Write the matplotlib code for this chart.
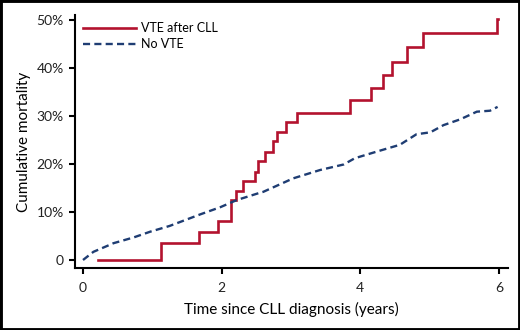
import matplotlib
matplotlib.use("Agg")
import matplotlib.pyplot as plt
from matplotlib.patches import Rectangle

plt.rcParams['font.family'] = ['Lato', 'DejaVu Sans']

# VTE after CLL (step function): step times (years) and cumulative mortality (%)
vte_time = [0.22, 1.13, 1.68, 1.95, 2.14, 2.21, 2.31, 2.48, 2.52, 2.63, 2.74, 2.80, 2.93,
            3.09, 3.85, 4.16, 4.33, 4.46, 4.68, 4.90, 5.97, 5.99]
vte_mort = [0.0, 3.6, 5.9, 8.2, 12.4, 14.4, 16.5, 18.4, 20.6, 22.6, 24.7, 26.7, 28.8,
            30.7, 33.3, 35.8, 38.5, 41.3, 44.4, 47.2, 50.3, 50.3]

# No VTE curve
novte_time = [0.0, 0.15, 0.44, 0.73, 0.97, 1.25, 1.69, 1.98, 2.22, 2.55, 2.60, 3.03, 3.42,
              3.76, 3.92, 4.24, 4.57, 4.81, 5.01, 5.20, 5.44, 5.68, 5.87, 5.98]
novte_mort = [0.0, 1.7, 3.5, 4.7, 5.9, 7.1, 9.5, 11.0, 12.5, 14.0, 14.2, 17.0, 18.75,
              19.9, 21.2, 22.6, 24.0, 26.2, 26.6, 28.1, 29.3, 30.9, 31.1, 31.9]

x_ticks = [0, 2, 4, 6]
y_ticks = [0, 10, 20, 30, 40, 50]
y_ticklabels = ["0", "10%", "20%", "30%", "40%", "50%"]

red = "#b3122e"
blue = "#1f3d73"

fig = plt.figure(figsize=(5.2, 3.3), dpi=100)
ax = fig.add_axes([75/520, 1-268/330, (508-75)/520, (268-15)/330])

ax.step(vte_time, vte_mort, where='post', color=red, lw=1.9, label="VTE after CLL",
        solid_joinstyle='miter')
ax.plot(novte_time, novte_mort, color=blue, lw=1.7, ls=(0, (3, 1.8)), label="No VTE")

ax.set_xlim(-8/69.33, 6 + 9/69.33)
ax.set_ylim(-8/4.8, 50 + 5/4.8)
ax.set_xticks(x_ticks)
ax.set_yticks(y_ticks)
ax.set_yticklabels(y_ticklabels)
ax.spines['top'].set_visible(False)
ax.spines['right'].set_visible(False)
for s in ['left', 'bottom']:
    ax.spines[s].set_linewidth(1.5)
ax.tick_params(axis='both', width=1.5, length=4, labelsize=10, color='black',
               labelcolor='#222222')
ax.tick_params(axis='x', pad=6)
ax.tick_params(axis='y', pad=4)
ax.set_xlabel("Time since CLL diagnosis (years)", fontsize=11, labelpad=6)
ax.set_ylabel("Cumulative mortality", fontsize=11, labelpad=4)

ax.legend(loc='upper left', bbox_to_anchor=(0.0, 1.0), frameon=False, fontsize=9,
          handlelength=4.3, handletextpad=0.4, labelspacing=0.3, borderaxespad=0.2)

fig.patches.append(Rectangle((0, 0), 1, 1, transform=fig.transFigure, fill=False,
                             edgecolor='black', lw=3.5))
fig.savefig("out.png", dpi=100)
